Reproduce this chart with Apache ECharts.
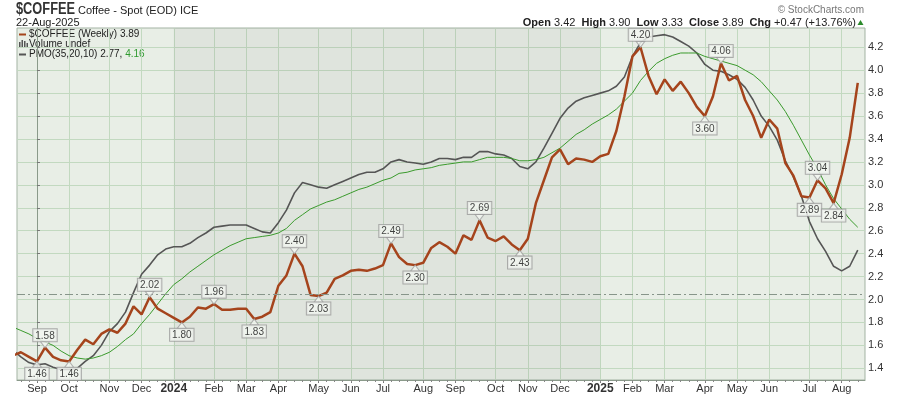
<!DOCTYPE html>
<html><head><meta charset="utf-8">
<script src="https://cdn.jsdelivr.net/npm/echarts@6/dist/echarts.min.js"></script>
<style>html,body{margin:0;padding:0;background:#fff}#c{width:900px;height:396px}</style>
</head><body><div id="c"></div><script>
// ---- data ----
const firstWeekMonday = '2023-08-14';   // week index -3
const weekOffset = -3;
const price = [1.51,1.54,1.50,1.46,1.58,1.50,1.47,1.46,1.56,1.65,1.61,1.70,1.74,1.71,1.79,1.94,1.87,2.02,1.92,1.88,
  1.84,1.80,1.85,1.93,1.92,1.96,1.91,1.91,1.92,1.92,1.83,1.85,1.89,2.12,2.21,2.40,2.29,2.04,2.03,2.06,
  2.18,2.21,2.25,2.26,2.25,2.27,2.30,2.49,2.37,2.31,2.30,2.32,2.45,2.50,2.46,2.40,2.56,2.52,2.69,2.54,
  2.51,2.55,2.48,2.43,2.53,2.84,3.04,3.24,3.31,3.18,3.23,3.22,3.20,3.25,3.27,3.47,3.77,4.12,4.20,3.95,
  3.79,3.92,3.82,3.90,3.80,3.68,3.60,3.77,4.06,3.91,3.95,3.74,3.60,3.41,3.57,3.49,3.19,3.08,2.90,2.89,
  3.04,2.97,2.84,3.09,3.41,3.89];
const pmo = [1.56,1.50,1.45,1.43,1.44,1.41,1.39,1.39,1.40,1.46,1.51,1.60,1.72,1.79,1.89,2.06,2.22,2.30,2.39,2.44,
  2.46,2.46,2.49,2.54,2.58,2.63,2.64,2.65,2.65,2.65,2.62,2.59,2.58,2.67,2.78,2.93,3.02,3.00,2.98,2.97,
  3.00,3.03,3.06,3.09,3.11,3.11,3.14,3.20,3.22,3.20,3.19,3.18,3.20,3.23,3.23,3.22,3.24,3.24,3.29,3.29,
  3.27,3.26,3.23,3.16,3.14,3.20,3.32,3.45,3.58,3.67,3.73,3.76,3.78,3.80,3.82,3.86,3.94,4.12,4.24,4.29,
  4.30,4.31,4.29,4.25,4.21,4.15,4.05,4.00,3.99,3.96,3.92,3.85,3.74,3.60,3.51,3.39,3.21,3.07,2.90,2.68,
  2.53,2.42,2.29,2.25,2.29,2.43];
const signal = [1.76,1.73,1.70,1.66,1.63,1.60,1.55,1.51,1.49,1.48,1.49,1.51,1.54,1.59,1.65,1.70,1.79,1.87,1.96,2.05,
  2.13,2.18,2.24,2.29,2.34,2.39,2.43,2.47,2.50,2.53,2.54,2.55,2.56,2.58,2.62,2.69,2.74,2.79,2.82,2.85,
  2.87,2.90,2.93,2.96,2.98,3.01,3.04,3.06,3.10,3.11,3.13,3.14,3.15,3.17,3.18,3.19,3.20,3.20,3.22,3.24,
  3.24,3.24,3.23,3.21,3.21,3.22,3.24,3.28,3.32,3.38,3.44,3.48,3.53,3.57,3.61,3.66,3.73,3.80,3.91,3.99,
  4.06,4.10,4.13,4.15,4.15,4.15,4.12,4.10,4.08,4.06,4.04,4.00,3.96,3.90,3.82,3.74,3.64,3.52,3.39,3.26,
  3.14,3.00,2.88,2.79,2.70,2.63];
const peakIdx = [1,14,22,32,44,55,75,85,97];
const troughIdx = [0,4,18,27,35,47,60,83,96,99];
const monthTickIdx = [0,4,9,13,17,22,26,30,35,39,43,48,52,57,61,65,70,74,78,83,87,91,96,100];
const monthTickLabels = ['Sep','Oct','Nov','Dec','2024','Feb','Mar','Apr','May','Jun','Jul','Aug',
  'Sep','Oct','Nov','Dec','2025','Feb','Mar','Apr','May','Jun','Jul','Aug'];
const yTicks = [1.4,1.6,1.8,2.0,2.2,2.4,2.6,2.8,3.0,3.2,3.4,3.6,3.8,4.0,4.2];
const pmoZeroLevel = 2.046;
const pmoLegendValues = ['2.77','4.16'];
const ohlcNames = ['Open','High','Low','Close'];
const ohlcValues = ['3.42','3.90','3.33','3.89'];
const chgText = '+0.47 (+13.76%)';
const symbolName = '$COFFEE', symbolDesc = 'Coffee - Spot (EOD)', exchange = 'ICE', asOf = '22-Aug-2025';

// ---- build ----
const FONT = 'Liberation Sans';
const weeks = price.map((_, k) => {
  const d = new Date(firstWeekMonday + 'T00:00:00Z'); d.setUTCDate(d.getUTCDate() + 7 * k); return d.toISOString().slice(0,10);
});
const toXY = arr => arr.map((v, k) => [k + weekOffset, v]);
const lastIdx = price.length - 1 + weekOffset;
const weeklyTicks = []; for (let i = -2; i <= lastIdx; i++) weeklyTicks.push(i);
const yearStart = monthTickIdx[monthTickLabels.indexOf('2024')];
const yearEnd = monthTickIdx[monthTickLabels.indexOf('2025')];

const C_PRICE = '#a5441c', C_PMO = '#555555', C_SIG = '#3a9a2c';
const GRID_C = '#c2d9c0';
const labelBase = {
  show: true, fontFamily: FONT, fontSize: 10, color: '#111', lineHeight: 11,
  backgroundColor: '#f3f6f1', borderColor: '#9a9a9a', borderWidth: 1, padding: [1, 2, 0, 2],
  formatter: p => p.value[1].toFixed(2)
};

const chart = echarts.init(document.getElementById('c'), null, { renderer: 'canvas' });
chart.setOption({
  animation: false,
  textStyle: { fontFamily: FONT },
  grid: { left: 17, right: 35, top: 28, bottom: 16, show: true, backgroundColor: '#e8eee6', borderColor: '#a3b3a3', borderWidth: 1 },
  xAxis: [{
    type: 'value', min: -2.48, max: 102.9, position: 'bottom',
    axisLine: { show: true, lineStyle: { color: '#8a9a8a' } },
    axisTick: { show: true, customValues: monthTickIdx, length: 3, lineStyle: { color: '#777' } },
    axisLabel: {
      customValues: monthTickIdx, margin: 3, fontSize: 11, color: '#333',
      formatter: v => { const l = monthTickLabels[monthTickIdx.indexOf(v)] || ''; return /^\d{4}$/.test(l) ? '{y|' + l + '}' : l; },
      rich: { y: { fontWeight: 'bold', fontSize: 12, color: '#333', fontFamily: FONT } }
    },
    splitLine: { show: true, lineStyle: { color: GRID_C, width: 1 } }
  }, {
    type: 'value', min: -2.48, max: 102.9, position: 'bottom',
    axisLine: { show: false },
    axisTick: { show: true, customValues: weeklyTicks, length: 2, lineStyle: { color: '#888' } },
    axisLabel: { show: false }, splitLine: { show: false }
  }],
  yAxis: {
    type: 'value', position: 'right', min: 1.298, max: 4.368, scale: true,
    axisLine: { show: true, lineStyle: { color: '#8a9a8a' } },
    axisTick: { show: true, customValues: yTicks, length: 3, lineStyle: { color: '#777' } },
    axisLabel: { customValues: yTicks, margin: 3, fontSize: 11, color: '#333', formatter: v => v.toFixed(1) },
    splitLine: { show: true, lineStyle: { color: GRID_C, width: 1 } }
  },
  series: [{
    name: 'PMO', type: 'line', data: toXY(pmo), showSymbol: false, z: 3,
    lineStyle: { color: C_PMO, width: 1.6 },
    markLine: { silent: true, symbol: 'none', label: { show: false },
      lineStyle: { color: '#87958a', type: [8, 3, 2, 3], width: 1 }, data: [{ yAxis: pmoZeroLevel }] },
    markArea: { silent: true, itemStyle: { color: 'rgba(50,60,50,0.05)' }, data: [[{ xAxis: yearStart }, { xAxis: yearEnd }]] }
  }, {
    name: 'Signal', type: 'line', data: toXY(signal), showSymbol: false, z: 3,
    lineStyle: { color: C_SIG, width: 1 }
  }, {
    name: 'Price', type: 'line', data: toXY(price), showSymbol: false, z: 4,
    lineStyle: { color: C_PRICE, width: 2.5 }
  }, {
    name: 'peaks', type: 'scatter', z: 6, silent: true,
    data: peakIdx.map(i => [i, price[i - weekOffset]]),
    symbol: 'path://M0,0 L10,0 L5,7 Z', symbolSize: [9, 6], symbolOffset: [0, -3],
    itemStyle: { color: '#f3f6f1', borderColor: '#a0a0a0', borderWidth: 1 },
    label: Object.assign({}, labelBase, { position: 'top', distance: 0 })
  }, {
    name: 'troughs', type: 'scatter', z: 6, silent: true,
    data: troughIdx.map(i => [i, price[i - weekOffset]]),
    symbol: 'path://M5,0 L10,7 L0,7 Z', symbolSize: [9, 6], symbolOffset: [0, 3],
    itemStyle: { color: '#f3f6f1', borderColor: '#a0a0a0', borderWidth: 1 },
    label: Object.assign({}, labelBase, { position: 'bottom', distance: 0 })
  }],
  graphic: [
    { type: 'text', x: 16, y: 2, scaleX: 0.8, style: { text: symbolName, font: 'bold 16px ' + FONT, fill: '#333', verticalAlign: 'top' } },
    { type: 'text', left: 78, top: 5, style: { text: symbolDesc, font: '11px ' + FONT, fill: '#222' } },
    { type: 'text', left: 180, top: 5, style: { text: exchange, font: '11px ' + FONT, fill: '#222' } },
    { type: 'text', left: 16, top: 17, style: { text: asOf, font: '11px ' + FONT, fill: '#222' } },
    { type: 'text', right: 36, top: 5, style: { text: '\u00a9 StockCharts.com', font: '10px ' + FONT, fill: '#777' } },
    { type: 'text', right: 44, top: 17, style: {
        text: ohlcNames.map((n, k) => '{b|' + n + '} {v|' + ohlcValues[k] + '}').join('  ') + '  {b|Chg} {v|' + chgText + '}',
        rich: { b: { fontWeight: 'bold', fontSize: 11, fill: '#222', fontFamily: FONT }, v: { fontSize: 11, fill: '#222', fontFamily: FONT } },
        font: '11px ' + FONT, fill: '#222' } },
    { type: 'polygon', shape: { points: [[857.5, 25], [863.5, 25], [860.5, 20]] }, style: { fill: '#2a8a2a' } },
    // legend
    { type: 'line', shape: { x1: 19, y1: 34.5, x2: 26, y2: 34.5 }, style: { stroke: C_PRICE, lineWidth: 2 } },
    { type: 'text', left: 29, top: 29, style: { text: symbolName + ' (Weekly) ' + price[price.length - 1].toFixed(2), font: '10px ' + FONT, fill: '#222' } },
    { type: 'rect', shape: { x: 19, y: 42, width: 1.5, height: 5 }, style: { fill: '#555' } },
    { type: 'rect', shape: { x: 21.5, y: 40, width: 1.5, height: 7 }, style: { fill: '#555' } },
    { type: 'rect', shape: { x: 24, y: 41, width: 1.5, height: 6 }, style: { fill: '#555' } },
    { type: 'rect', shape: { x: 26.5, y: 43, width: 1.5, height: 4 }, style: { fill: '#555' } },
    { type: 'text', left: 29, top: 39, style: { text: 'Volume undef', font: '10px ' + FONT, fill: '#222' } },
    { type: 'line', shape: { x1: 19, y1: 54.5, x2: 26, y2: 54.5 }, style: { stroke: C_PMO, lineWidth: 2 } },
    { type: 'text', left: 29, top: 49, style: {
        text: 'PMO(35,20,10) ' + pmoLegendValues[0] + ', {g|' + pmoLegendValues[1] + '}',
        rich: { g: { fill: '#2e9a2e', fontSize: 10, fontFamily: FONT } },
        font: '10px ' + FONT, fill: '#222' } }
  ]
});
</script></body></html>
